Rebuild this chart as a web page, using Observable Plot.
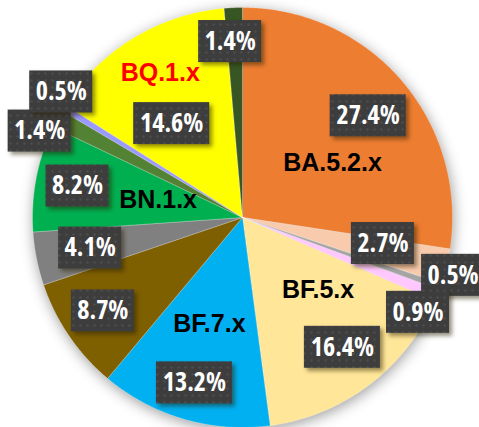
<!DOCTYPE html>
<html>
<head>
<meta charset="utf-8">
<script src="https://cdn.jsdelivr.net/npm/d3@7"></script>
<script src="https://cdn.jsdelivr.net/npm/@observablehq/plot@0.6"></script>
<style>
  html, body { margin: 0; padding: 0; background: #fff; }
  .pie { filter: drop-shadow(1px 3px 7px rgba(0,0,0,0.38)); }
  .boxes rect { filter: drop-shadow(3px 3px 2px rgba(40,30,0,0.5)); }
  .pct { font-stretch: 75%; }
  .pct text { font-stretch: 75%; }
</style>
</head>
<body>
<svg width="0" height="0" style="position:absolute">
  <defs>
    <pattern id="dots" width="7" height="7" patternUnits="userSpaceOnUse">
      <rect width="7" height="7" fill="#3d3d3d"></rect>
      <circle cx="3.5" cy="3.5" r="1.2" fill="#4d4d4d"></circle>
    </pattern>
  </defs>
</svg>
<div id="chart"></div>
<script>
// ---- data (clockwise from 12 o'clock) ----
const lineages = ["BA.5.2.x", "", "", "", "BF.5.x", "BF.7.x", "", "", "BN.1.x", "", "", "BQ.1.x", ""];
const shares = [27.4, 2.7, 0.5, 0.9, 16.4, 13.2, 8.7, 4.1, 8.2, 1.4, 0.5, 14.6, 1.4];
const sliceColors = ["#ED7D31", "#F8CBAD", "#A5A5A5", "#FFC9FF", "#FFE699", "#00B0F0",
  "#7F6000", "#808080", "#00B050", "#548235", "#9999FF", "#FFFF00", "#375623"];

// ---- label layout: [radius factor, angle nudge in degrees] ----
const pctPlacement = [[0.77, 1.7], [0.68, -3], [1.04, -3.9], [0.95, 6.6], [0.78, -0.5], [0.82, 0],
  [0.8, 0.6], [0.74, 0], [0.8, 0], [1.05, -5], [1.05, 3.2], [0.56, -5.7], [0.84, -1.5]];
const namePlacement = {0: [0.5, 9.7], 4: [0.5, -8.9], 5: [0.53, 1.1], 8: [0.41, 0.6], 11: [0.79, 1.6]};

const PX_PER_UNIT = 210; // (452 - 32) / 2
const total = d3.sum(shares);
const toRad = d => d * Math.PI / 180;

// slices as filled polygons (center + arc points)
const slicePts = [];
let cum = 0;
const mids = [];
shares.forEach((v, i) => {
  const a0 = cum / total * 2 * Math.PI;
  const a1 = (cum + v) / total * 2 * Math.PI;
  mids.push((a0 + a1) / 2);
  cum += v;
  slicePts.push({i, x: 0, y: 0});
  const n = Math.max(2, Math.ceil((a1 - a0) / toRad(0.5)));
  for (let k = 0; k <= n; k++) {
    const a = a0 + (a1 - a0) * k / n;
    slicePts.push({i, x: Math.sin(a), y: Math.cos(a)});
  }
  slicePts.push({i, x: 0, y: 0});
});

// percentage labels
const pctLabels = shares.map((v, i) => {
  const [r, nudge] = pctPlacement[i];
  const a = mids[i] + toRad(nudge);
  const text = v.toFixed(1) + "%";
  const hw = (13 * text.length + 11) / 2 / PX_PER_UNIT;
  const hh = 21 / PX_PER_UNIT;
  const x = r * Math.sin(a), y = r * Math.cos(a);
  return {text, x, y, x1: x - hw, x2: x + hw, y1: y - hh, y2: y + hh};
});

// name labels
const nameLabels = lineages.map((name, i) => ({name, i})).filter(d => d.name).map(d => {
  const [r, nudge] = namePlacement[d.i];
  const a = mids[d.i] + toRad(nudge);
  return {text: d.name, x: r * Math.sin(a), y: r * Math.cos(a), color: d.name === "BQ.1.x" ? "#FF0000" : "#000000"};
});

const chart = Plot.plot({
  width: 479,
  height: 427,
  margin: 0,
  x: {domain: [-1, 1], range: [32, 452], axis: null},
  y: {domain: [-1, 1], range: [427, 7], axis: null},
  color: {type: "ordinal", domain: d3.range(shares.length), range: sliceColors},
  style: {background: "transparent", overflow: "visible"},
  marks: [
    Plot.line(slicePts, {x: "x", y: "y", z: "i", fill: "i", stroke: "#ffffff", strokeWidth: 0.5, strokeOpacity: 0.5, className: "pie"}),
    Plot.text(nameLabels, {x: "x", y: "y", text: "text", fill: d => d.color,
      fontSize: 25, fontWeight: "bold", fontFamily: "'Liberation Sans', Arial, sans-serif"}),
    Plot.rect(pctLabels, {x1: "x1", x2: "x2", y1: "y1", y2: "y2", fill: "url(#dots)", className: "boxes"}),
    Plot.text(pctLabels, {x: "x", y: "y", text: "text", fill: "#ffffff", fontSize: 26, fontWeight: "bold",
      fontFamily: "'Open Sans', sans-serif", className: "pct"})
  ]
});
document.getElementById("chart").appendChild(chart);
</script>
</body>
</html>
